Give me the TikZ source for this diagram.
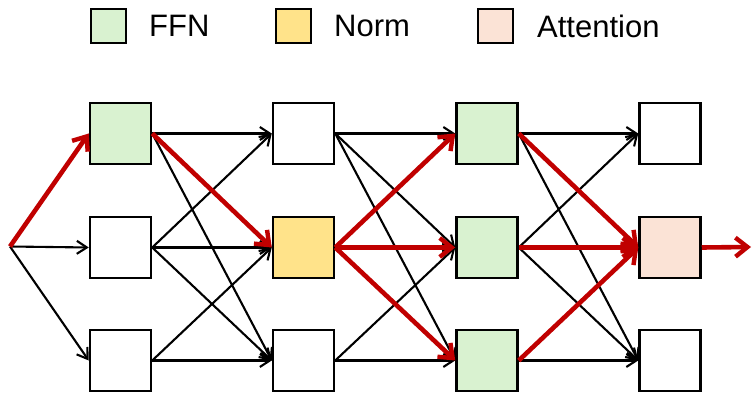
\documentclass[tikz,border=0pt]{standalone}
\usepackage{fontspec}
\setmainfont{Liberation Sans}
\usetikzlibrary{arrows.meta}
\definecolor{ffn}{HTML}{D9F2D0}
\definecolor{nrm}{HTML}{FFE38A}
\definecolor{att}{HTML}{FBE3D6}
\definecolor{hot}{HTML}{C00000}
\tikzset{
  cell/.style={draw=black, line width=2.5pt, minimum size=61pt, inner sep=0pt, fill=white},
  lcell/.style={draw=black, line width=2.5pt, minimum width=35pt, minimum height=34pt, inner sep=0pt},
  lab/.style={anchor=west, font=\fontsize{31}{31}\selectfont, inner sep=0pt},
  blk/.style={draw=black, line width=2.1pt, -{Straight Barb[length=10pt,width=13pt,line width=2.1pt]}},
  rd/.style={draw=hot, line width=4.6pt, -{Straight Barb[length=12pt,width=19pt,line width=4.4pt]}},
}
\begin{document}
\begin{tikzpicture}[x=1pt,y=-1pt]
\useasboundingbox (0,0) rectangle (753,398);
% legend
\node[lcell, fill=ffn] (l1) at (108.5,26) {};
\node[lab] (t1) at (149,26) {FFN};
\node[lcell, fill=nrm] (l2) at (293.5,26) {};
\node[lab] (t2) at (334,26) {Norm};
\node[lcell, fill=att] (l3) at (495.5,26) {};
\node[lab] (t3) at (537,26) {Attention};
% grid
\coordinate (in) at (10,246.5);
\coordinate (out) at (751,247);
\foreach \c/\x in {1/120.5,2/303.5,3/487,4/670}{
  \foreach \r/\y in {1/133.5,2/247.5,3/360.5}{
    \node[cell] (b\c\r) at (\x,\y) {};
  }
}
\node[cell, fill=ffn] at (b11) {};
\node[cell, fill=nrm] at (b22) {};
\node[cell, fill=ffn] at (b31) {};
\node[cell, fill=ffn] at (b32) {};
\node[cell, fill=ffn] at (b33) {};
\node[cell, fill=att] at (b42) {};
% black edges (every pair except bottom -> top)
\foreach \r in {2,3}{ \draw[blk] (in) -- (b1\r.west); }
\foreach \c/\n in {1/2,2/3,3/4}{
  \foreach \a/\b in {1/1,1/2,1/3,2/1,2/2,2/3,3/2,3/3}{
    \draw[blk] (b\c\a.east) -- (b\n\b.west);
  }
}
% red path
\draw[rd] (in) -- (b11.west);
\draw[rd] (b11.east) -- (b22.west);
\foreach \b in {1,2,3}{ \draw[rd] (b22.east) -- (b3\b.west); }
\foreach \a in {1,2,3}{ \draw[rd] (b3\a.east) -- (b42.west); }
\draw[rd] (b42.east) -- (out);
\end{tikzpicture}
\end{document}
